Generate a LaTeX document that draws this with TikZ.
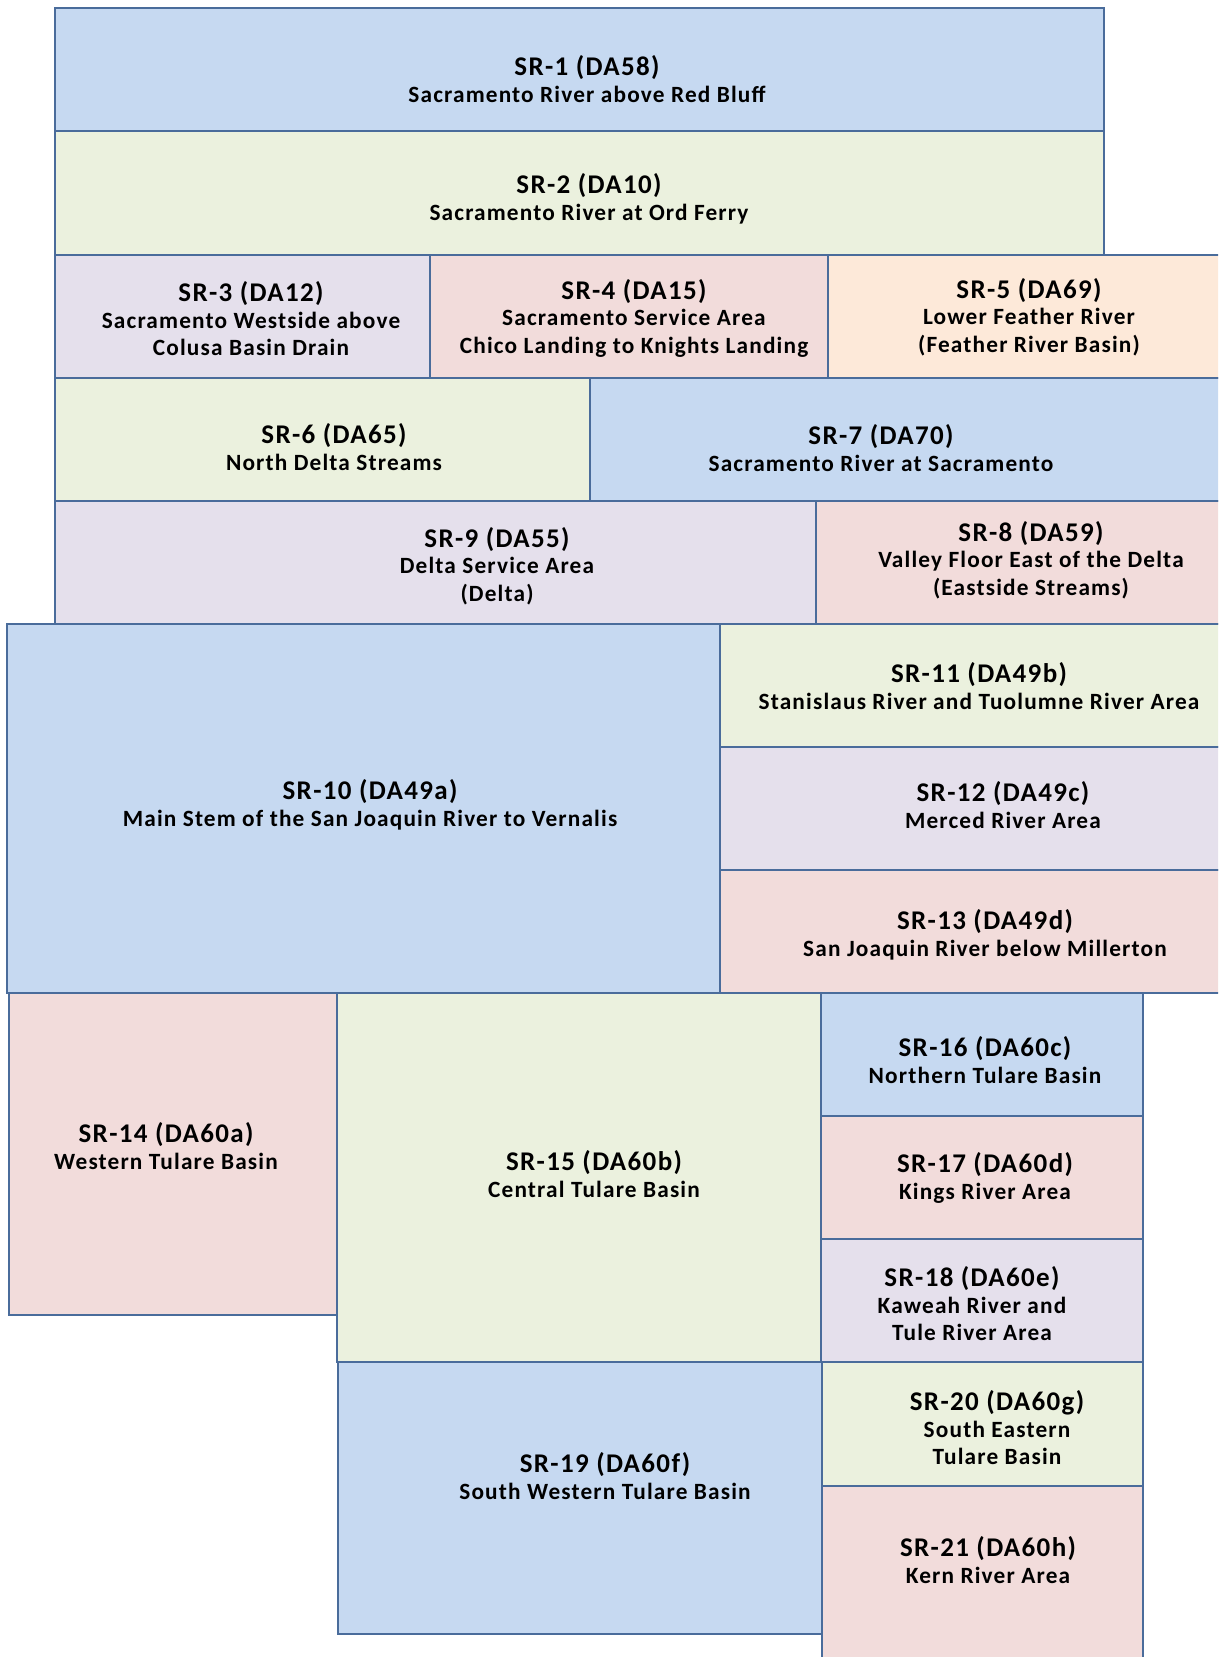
\documentclass[tikz,border=0pt]{standalone}
\usepackage{fontspec}
\setmainfont{Carlito}[LetterSpace=5]
\usetikzlibrary{fit}
\definecolor{cBlue}{HTML}{C6D9F1}
\definecolor{cGreen}{HTML}{EBF1DE}
\definecolor{cLav}{HTML}{E5E0EC}
\definecolor{cPink}{HTML}{F2DCDB}
\definecolor{cPeach}{HTML}{FDE9D9}
\definecolor{cLine}{HTML}{4A6C9B}
\newcommand{\ttl}[1]{{\fontsize{27}{30}\selectfont #1}\\[-1pt]}
\tikzset{
  region/.style={draw=cLine, line width=2pt, inner sep=0pt, rectangle},
  label/.style={align=center, font=\bfseries\fontsize{23.3}{27.5}\selectfont, inner sep=0pt, text=black}
}
\begin{document}
\begin{tikzpicture}[x=1pt,y=-1pt]
\useasboundingbox (0,0) rectangle (1218,1657);
\clip (0,0) rectangle (1218,1657);
\fill[white] (0,0) rectangle (1218,1657);
% row 1-2
\node[region, fill=cBlue,  fit={(55,8) (1104,131)}]  (r1) {};
\node[region, fill=cGreen, fit={(55,131) (1104,255)}] (r2) {};
% row 3
\node[region, fill=cLav,   fit={(55,255) (430,378)}]  (r3) {};
\node[region, fill=cPink,  fit={(430,255) (828,378)}] (r4) {};
\node[region, fill=cPeach, fit={(828,255) (1230,378)}] (r5) {};
% row 4
\node[region, fill=cGreen, fit={(55,378) (590,501)}]  (r6) {};
\node[region, fill=cBlue,  fit={(590,378) (1230,501)}] (r7) {};
% row 5
\node[region, fill=cLav,   fit={(55,501) (816,624)}]  (r9) {};
\node[region, fill=cPink,  fit={(816,501) (1230,624)}] (r8) {};
% SJ block
\node[region, fill=cBlue,  fit={(7,624) (720,993)}]   (r10) {};
\node[region, fill=cGreen, fit={(720,624) (1230,747)}] (r11) {};
\node[region, fill=cLav,   fit={(720,747) (1230,870)}] (r12) {};
\node[region, fill=cPink,  fit={(720,870) (1230,993)}] (r13) {};
% Tulare block
\node[region, fill=cPink,  fit={(9,993) (337,1315)}]  (r14) {};
\node[region, fill=cGreen, fit={(337,993) (821,1362)}] (r15) {};
\node[region, fill=cBlue,  fit={(821,993) (1143,1116)}] (r16) {};
\node[region, fill=cPink,  fit={(821,1116) (1143,1239)}] (r17) {};
\node[region, fill=cLav,   fit={(821,1239) (1143,1362)}] (r18) {};
\node[region, fill=cBlue,  fit={(338,1362) (822,1634)}] (r19) {};
\node[region, fill=cGreen, fit={(822,1362) (1143,1486)}] (r20) {};
\node[region, fill=cPink,  fit={(822,1486) (1143,1670)}] (r21) {};
% labels
\node[label] (t1) at (587,79) {\ttl{SR-1 (DA58)}Sacramento River above Red Bluff};
\node[label] (t2) at (589,199) {\ttl{SR-2 (DA10)}Sacramento River at Ord Ferry};
\node[label] (t3) at (251,319) {\ttl{SR-3 (DA12)}Sacramento Westside above\\Colusa Basin Drain};
\node[label] (t4) at (634,318) {\ttl{SR-4 (DA15)}Sacramento Service Area\\Chico Landing to Knights Landing};
\node[label] (t5) at (1029,317) {\ttl{SR-5 (DA69)}Lower Feather River\\(Feather River Basin)};
\node[label] (t6) at (334,447) {\ttl{SR-6 (DA65)}North Delta Streams};
\node[label] (t7) at (881,448) {\ttl{SR-7 (DA70)}Sacramento River at Sacramento};
\node[label] (t9) at (497,566) {\ttl{SR-9 (DA55)}Delta Service Area\\(Delta)};
\node[label] (t8) at (1031,560) {\ttl{SR-8 (DA59)}Valley Floor East of the Delta\\(Eastside Streams)};
\node[label] (t11) at (979,686) {\ttl{SR-11 (DA49b)}Stanislaus River and Tuolumne River Area};
\node[label] (t10) at (370,805) {\ttl{SR-10 (DA49a)}Main Stem of the San Joaquin River to Vernalis};
\node[label] (t12) at (1003,805) {\ttl{SR-12 (DA49c)}Merced River Area};
\node[label] (t13) at (985,935) {\ttl{SR-13 (DA49d)}San Joaquin River below Millerton};
\node[label] (t14) at (166,1146) {\ttl{SR-14 (DA60a)}Western Tulare Basin};
\node[label] (t15) at (594,1174) {\ttl{SR-15 (DA60b)}Central Tulare Basin};
\node[label] (t16) at (985,1060) {\ttl{SR-16 (DA60c)}Northern Tulare Basin};
\node[label] (t17) at (985,1178) {\ttl{SR-17 (DA60d)}Kings River Area};
\node[label] (t18) at (972,1304) {\ttl{SR-18 (DA60e)}Kaweah River and\\Tule River Area};
\node[label] (t20) at (997,1428) {\ttl{SR-20 (DA60g)}South Eastern\\Tulare Basin};
\node[label] (t19) at (605,1476) {\ttl{SR-19 (DA60f)}South Western Tulare Basin};
\node[label] (t21) at (988,1560) {\ttl{SR-21 (DA60h)}Kern River Area};
\end{tikzpicture}
\end{document}
